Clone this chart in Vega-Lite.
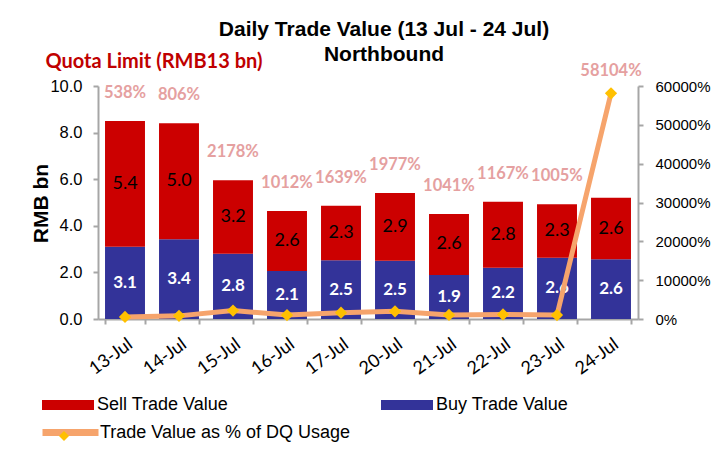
{
  "$schema": "https://vega.github.io/schema/vega-lite/v6.json",
  "width": 540,
  "height": 233,
  "autosize": {"type": "none"},
  "padding": {"left": 98, "top": 86, "right": 74, "bottom": 130},
  "background": "white",
  "title": {
    "text": ["Daily Trade Value (13 Jul - 24 Jul)", "Northbound"],
    "font": "Liberation Sans",
    "fontSize": 21,
    "fontWeight": "bold",
    "color": "black",
    "anchor": "middle",
    "dx": 16,
    "offset": -14,
    "lineHeight": 25
  },
  "datasets": {
    "bars": [
      {"date": "13-Jul", "series": "Buy Trade Value", "value": 3.10},
      {"date": "13-Jul", "series": "Sell Trade Value", "value": 5.40},
      {"date": "14-Jul", "series": "Buy Trade Value", "value": 3.42},
      {"date": "14-Jul", "series": "Sell Trade Value", "value": 4.98},
      {"date": "15-Jul", "series": "Buy Trade Value", "value": 2.80},
      {"date": "15-Jul", "series": "Sell Trade Value", "value": 3.16},
      {"date": "16-Jul", "series": "Buy Trade Value", "value": 2.06},
      {"date": "16-Jul", "series": "Sell Trade Value", "value": 2.58},
      {"date": "17-Jul", "series": "Buy Trade Value", "value": 2.52},
      {"date": "17-Jul", "series": "Sell Trade Value", "value": 2.34},
      {"date": "20-Jul", "series": "Buy Trade Value", "value": 2.50},
      {"date": "20-Jul", "series": "Sell Trade Value", "value": 2.91},
      {"date": "21-Jul", "series": "Buy Trade Value", "value": 1.89},
      {"date": "21-Jul", "series": "Sell Trade Value", "value": 2.62},
      {"date": "22-Jul", "series": "Buy Trade Value", "value": 2.20},
      {"date": "22-Jul", "series": "Sell Trade Value", "value": 2.83},
      {"date": "23-Jul", "series": "Buy Trade Value", "value": 2.63},
      {"date": "23-Jul", "series": "Sell Trade Value", "value": 2.29},
      {"date": "24-Jul", "series": "Buy Trade Value", "value": 2.56},
      {"date": "24-Jul", "series": "Sell Trade Value", "value": 2.64}
    ],
    "usage": [
      {"date": "13-Jul", "pct": 538},
      {"date": "14-Jul", "pct": 806},
      {"date": "15-Jul", "pct": 2178},
      {"date": "16-Jul", "pct": 1012},
      {"date": "17-Jul", "pct": 1639},
      {"date": "20-Jul", "pct": 1977},
      {"date": "21-Jul", "pct": 1041},
      {"date": "22-Jul", "pct": 1167},
      {"date": "23-Jul", "pct": 1005},
      {"date": "24-Jul", "pct": 58104}
    ]
  },
  "encoding": {
    "x": {
      "field": "date", "type": "nominal", "sort": null,
      "scale": {"paddingInner": 0.26, "paddingOuter": 0.13},
      "axis": {
        "title": "Quota Limit (RMB13 bn)",
        "titleX": -53, "titleY": -258,
        "titleAlign": "left", "titleBaseline": "middle",
        "titleFont": "Lato", "titleFontSize": 20, "titleFontWeight": "bold",
        "titleColor": "#C00000",
        "labelAngle": -36, "labelAlign": "right", "labelBaseline": "top",
        "labelFont": "Lato", "labelFontSize": 18, "labelColor": "black",
        "labelPadding": 11,
        "tickBand": "extent", "tickSize": 5, "tickWidth": 2, "tickColor": "#A6A6A6",
        "domainColor": "#A6A6A6", "domainWidth": 2
      }
    }
  },
  "layer": [
    {
      "data": {"name": "bars"},
      "layer": [
        {
          "mark": {"type": "bar"},
          "encoding": {
            "y": {
              "field": "value", "type": "quantitative", "stack": "zero",
              "scale": {"domain": [0, 10], "nice": false},
              "axis": {
                "title": "RMB bn",
                "titleFont": "Liberation Sans", "titleFontSize": 21, "titleFontWeight": "bold",
                "titleColor": "black",
                "titleX": -57, "titleY": 117, "titleAngle": -90,
                "titleAlign": "center", "titleBaseline": "middle",
                "values": [0, 2, 4, 6, 8, 10], "format": ".1f",
                "labelFont": "Liberation Sans", "labelFontSize": 16.5, "labelColor": "black",
                "labelPadding": 11, "tickSize": 5, "tickWidth": 2, "tickColor": "#A6A6A6",
                "domainColor": "#A6A6A6", "domainWidth": 2, "grid": false, "labelOverlap": false
              }
            },
            "color": {
              "field": "series", "type": "nominal",
              "scale": {"domain": ["Sell Trade Value", "Buy Trade Value"], "range": ["#CC0000", "#333399"]},
              "legend": {
                "orient": "none", "legendX": -56, "legendY": 293,
                "direction": "horizontal", "columns": 2, "columnPadding": 152,
                "title": null,
                "symbolType": "M-1,-0.19H1V0.19H-1Z", "symbolSize": 2704,
                "symbolStrokeWidth": 0, "symbolOpacity": 1,
                "labelFont": "Liberation Sans", "labelFontSize": 18, "labelColor": "black",
                "labelOffset": 3, "padding": 0
              }
            },
            "order": {"field": "series", "sort": "ascending"}
          }
        },
        {
          "transform": [
            {"stack": "value", "groupby": ["date"], "sort": [{"field": "series", "order": "ascending"}], "as": ["v0", "v1"]},
            {"calculate": "(datum.v0 + datum.v1) / 2", "as": "mid"},
            {"filter": "datum.series == 'Buy Trade Value'"}
          ],
          "mark": {"type": "text", "font": "Lato", "fontSize": 17, "fontWeight": "bold", "color": "white", "baseline": "middle"},
          "encoding": {
            "y": {"field": "mid", "type": "quantitative"},
            "text": {"field": "value", "type": "quantitative", "format": ".1f"}
          }
        },
        {
          "transform": [
            {"stack": "value", "groupby": ["date"], "sort": [{"field": "series", "order": "ascending"}], "as": ["v0", "v1"]},
            {"calculate": "(datum.v0 + datum.v1) / 2", "as": "mid"},
            {"filter": "datum.series == 'Sell Trade Value'"}
          ],
          "mark": {"type": "text", "font": "Lato", "fontSize": 18, "color": "black", "baseline": "middle"},
          "encoding": {
            "y": {"field": "mid", "type": "quantitative"},
            "text": {"field": "value", "type": "quantitative", "format": ".1f"}
          }
        },
        {
          "transform": [
            {"aggregate": [{"op": "sum", "field": "value", "as": "total"}], "groupby": ["date"]},
            {"lookup": "date", "from": {"data": {"name": "usage"}, "key": "date", "fields": ["pct"]}},
            {"filter": "datum.pct < 50000"},
            {"calculate": "datum.pct + '%'", "as": "pctText"}
          ],
          "mark": {"type": "text", "font": "Lato", "fontSize": 16.5, "fontWeight": "bold", "color": "#E5A0A0", "baseline": "middle", "dy": -28},
          "encoding": {
            "y": {"field": "total", "type": "quantitative"},
            "text": {"field": "pctText", "type": "nominal"}
          }
        }
      ]
    },
    {
      "data": {"name": "usage"},
      "layer": [
        {
          "mark": {"type": "line", "strokeWidth": 5},
          "encoding": {
            "y": {
              "field": "pct", "type": "quantitative",
              "scale": {"domain": [0, 60000], "nice": false},
              "axis": {
                "orient": "right", "title": null,
                "values": [0, 10000, 20000, 30000, 40000, 50000, 60000],
                "tickCount": 7,
                "labelExpr": "datum.value + '%'",
                "labelFont": "Liberation Sans", "labelFontSize": 15, "labelColor": "black",
                "labelPadding": 12, "tickSize": 5, "tickWidth": 2, "tickColor": "#A6A6A6",
                "domainColor": "#A6A6A6", "domainWidth": 2, "grid": false,
                "labelOverlap": false, "labelSeparation": 0, "labelBound": false
              }
            },
            "stroke": {
              "datum": "Trade Value as % of DQ Usage",
              "scale": {"range": ["#F6A46C"]},
              "legend": {
                "orient": "none", "legendX": -59, "legendY": 315,
                "title": null, "symbolType": "stroke", "symbolSize": 3136,
                "symbolStrokeWidth": 7,
                "labelFont": "Liberation Sans", "labelFontSize": 18, "labelColor": "black",
                "labelOffset": -2, "labelLimit": 400, "padding": 0
              }
            }
          }
        },
        {
          "mark": {"type": "point", "shape": "diamond", "filled": true, "size": 150, "opacity": 1},
          "encoding": {
            "y": {"field": "pct", "type": "quantitative"},
            "fill": {
              "datum": "marker",
              "scale": {"range": ["#FFC000"]},
              "legend": {
                "orient": "none", "legendX": -39, "legendY": 345,
                "title": null, "symbolType": "diamond", "symbolSize": 100,
                "symbolStrokeWidth": 0, "labelExpr": "''", "labelFontSize": 1, "padding": 0
              }
            }
          }
        },
        {
          "transform": [
            {"filter": "datum.pct >= 50000"},
            {"calculate": "datum.pct + '%'", "as": "pctText"}
          ],
          "mark": {"type": "text", "font": "Lato", "fontSize": 16.5, "fontWeight": "bold", "color": "#E5A0A0", "baseline": "middle", "dy": -22},
          "encoding": {
            "y": {"field": "pct", "type": "quantitative"},
            "text": {"field": "pctText", "type": "nominal"}
          }
        }
      ]
    }
  ],
  "resolve": {"scale": {"y": "independent"}},
  "config": {
    "view": {"stroke": null},
    "axis": {"grid": false}
  }
}
